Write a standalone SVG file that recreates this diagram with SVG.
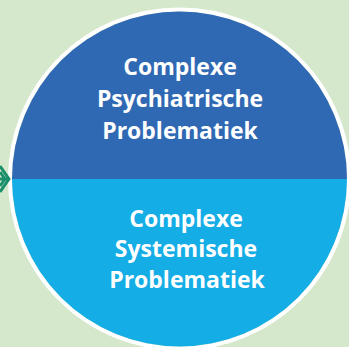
<svg xmlns="http://www.w3.org/2000/svg" width="349" height="347" viewBox="0 0 349 347">
<defs>
<style>
.t{font-family:"Open Sans","Liberation Sans",sans-serif;font-weight:bold;font-size:23px;fill:#ffffff;text-anchor:middle}
</style>
<clipPath id="c"><circle cx="179.5" cy="179" r="167.5"/></clipPath>
</defs>
<rect width="349" height="347" fill="#d5e8cc"/>
<circle cx="179.5" cy="179" r="169.5" fill="none" stroke="#ffffff" stroke-width="4"/>
<g id="top">
<rect x="0" y="0" width="349" height="179" fill="#2f69b3" clip-path="url(#c)"/>
<text class="t" x="180" y="75">Complexe</text>
<text class="t" x="180" y="107">Psychiatrische</text>
<text class="t" x="180" y="139">Problematiek</text>
</g>
<g id="bottom">
<rect x="0" y="179" width="349" height="168" fill="#15ade6" clip-path="url(#c)"/>
<text class="t" x="186" y="227">Complexe</text>
<text class="t" x="186" y="257">Systemische</text>
<text class="t" x="187" y="288">Problematiek</text>
</g>
<g id="connectors">
<path d="M0,166 L9,179 L0,192 M0,172 L5,179 L0,186 M0,179 L8,179" fill="none" stroke="#1a8f6a" stroke-width="3"/>
</g>
</svg>
